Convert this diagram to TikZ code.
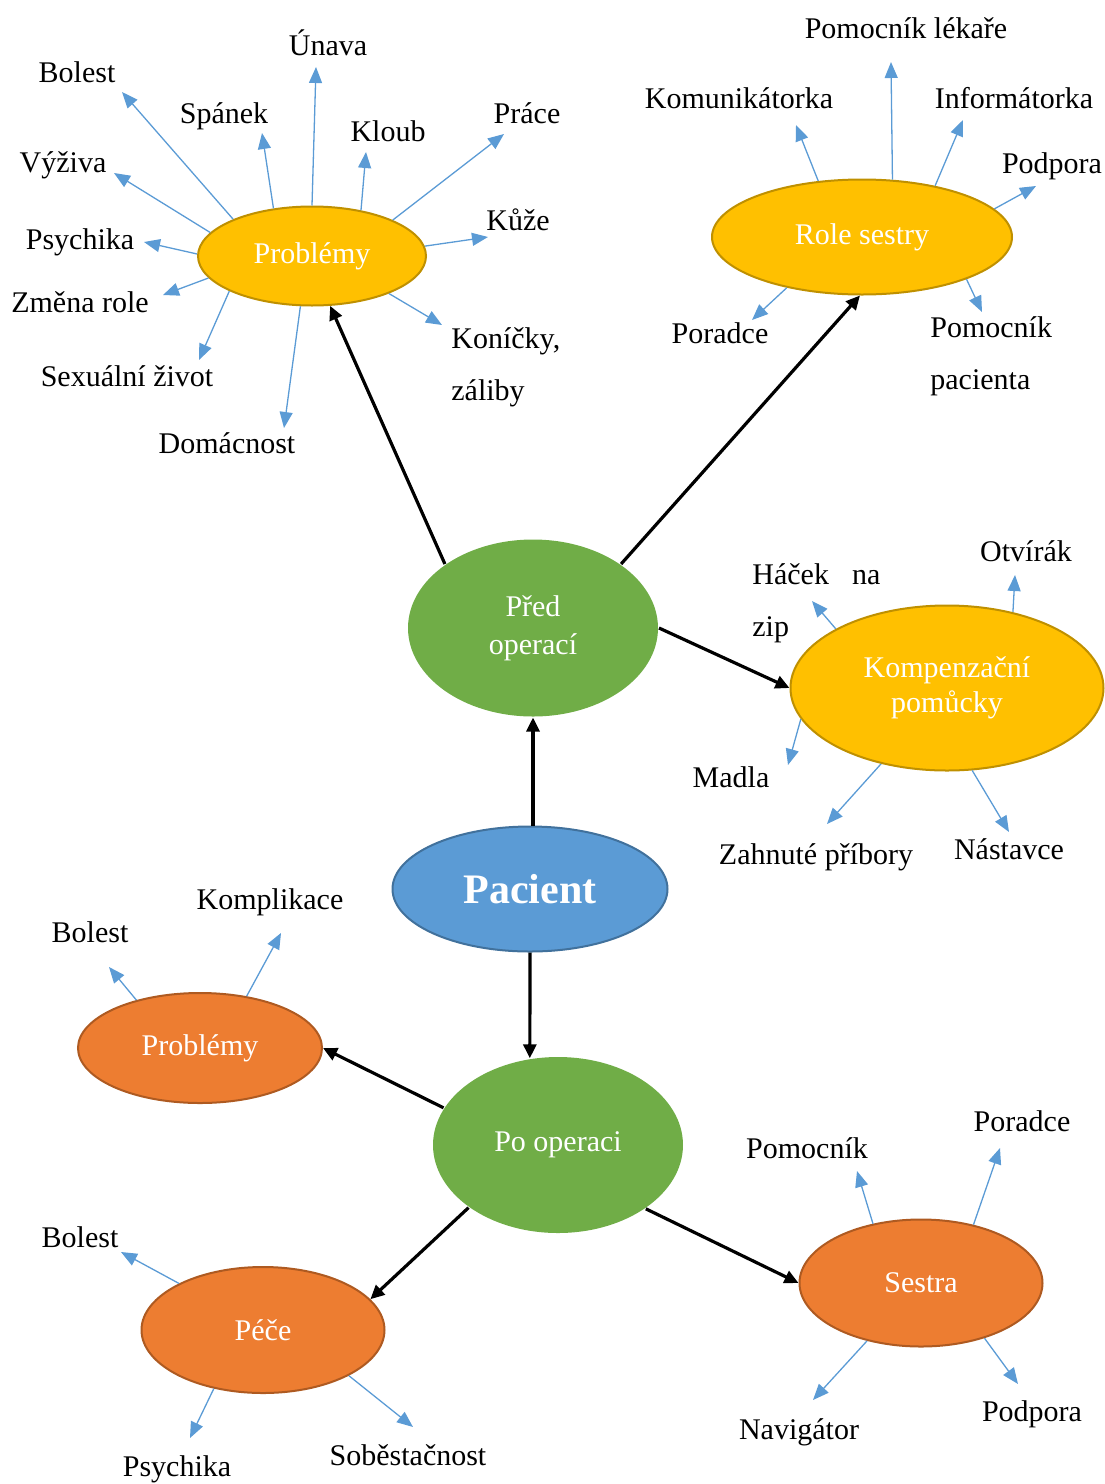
\documentclass[tikz,border=0pt]{standalone}
\usepackage{fontspec}
\setmainfont{Liberation Serif}
\usepackage{xcolor}
\usetikzlibrary{shapes.geometric,arrows.meta}
\definecolor{goldFill}{HTML}{FFC000}
\definecolor{goldEdge}{HTML}{BF9000}
\definecolor{greenFill}{HTML}{70AD47}
\definecolor{blueFill}{HTML}{5B9BD5}
\definecolor{blueEdge}{HTML}{41719C}
\definecolor{orangeFill}{HTML}{ED7D31}
\definecolor{orangeEdge}{HTML}{AE5A21}
\definecolor{leafBlue}{HTML}{5B9BD5}

\begin{document}
\begin{tikzpicture}[x=0.5pt,y=-0.5pt,
bubble/.style={ellipse,inner sep=0pt,align=center,text=white,line width=1pt,
  font=\fontsize{15}{17.5}\selectfont},
goldBubble/.style={bubble,fill=goldFill,draw=goldEdge},
greenBubble/.style={bubble,fill=greenFill},
blueBubble/.style={bubble,fill=blueFill,draw=blueEdge},
orangeBubble/.style={bubble,fill=orangeFill,draw=orangeEdge},
link/.style={line width=1.6pt,-{Triangle[length=7pt,width=6.5pt]}},
leaf/.style={draw=leafBlue,line width=0.65pt,-{Triangle[length=8pt,width=6.5pt]}},
lbl/.style={inner sep=0pt,anchor=base,font=\fontsize{15}{26}\selectfont}]

\useasboundingbox (0,0) rectangle (1104,1484);

\node[goldBubble,minimum width=114pt,minimum height=49.5pt] (probA) at (312,256) {Problémy};
\node[goldBubble,minimum width=150pt,minimum height=57.5pt] (role) at (862,237) {Role sestry};
\node[greenBubble,minimum width=125pt,minimum height=88.5pt,
  font=\fontsize{15}{19}\selectfont] (pred) at (533,628) {Před\\operací};
\node[goldBubble,minimum width=156.5pt,minimum height=82.5pt] (komp) at (947,688) {Kompenzační\\pomůcky};
\node[blueBubble,minimum width=137.5pt,minimum height=62.5pt,
  font=\fontsize{21}{24}\selectfont\bfseries] (pacient) at (530,889) {Pacient};
\node[orangeBubble,minimum width=122pt,minimum height=55pt] (probB) at (200,1048) {Problémy};
\node[greenBubble,minimum width=125pt,minimum height=88pt] (po) at (558,1145) {Po operaci};
\node[orangeBubble,minimum width=121.5pt,minimum height=63pt] (pece) at (263,1330) {Péče};
\node[orangeBubble,minimum width=121.5pt,minimum height=63.5pt] (sestra) at (921,1283) {Sestra};

\draw[link] (pred.144) -- (probA.-70);
\draw[link] (pred.36) -- (role.-92);
\draw[link] (pred.0) -- (komp.180);
\draw[link] (pred.south |- pacient.north) -- (pred.south);
\draw[link] (pacient.south) -- (po.108);
\draw[link] (po.162) -- (probB.0);
\draw[link] (po.-145) -- (pece.16);
\draw[link] (po.-36) -- (sestra.180);

\foreach \n/\a/\tx/\ty/\lx/\ly/\t [count=\i] in {
  probA/155/122/92/77/82/Bolest,
  probA/129/262/133/224/123/Spánek,
  probA/90/316/67/328/55/Únava,
  probA/43/366/152/388/141/Kloub,
  probA/24/504/134/527/123/Práce,
  probA/5/488/237/518/230/Kůže,
  probA/-103/284/428/227/453/Domácnost,
  probA/203/199/360/127/386/Sexuální život,
  probA/192/163/295/80/312/Změna role,
  probA/179/144/242/80/249/Psychika,
  probA/167/114/173/63/172/Výživa,
  role/128/796/125/739/108/Komunikátorka,
  role/62/891/62/906/38/Pomocník lékaře,
  role/35/963/120/1014/108/Informátorka,
  role/12/1036/186/1052/173/Podpora,
  role/214/752/320/720/343/Poradce,
  komp/49/1015/575/1026/561/Otvírák,
  komp/192/788/765/731/787/Madla,
  komp/229/827/824/816/864/Zahnuté příbory,
  komp/287/1009/832/1009/859/Nástavce,
  probB/143/109/967/90/942/Bolest,
  probB/48/281/933/270/909/Komplikace,
  pece/151/121/1252/80/1247/Bolest,
  pece/230/190/1438/177/1476/Psychika,
  pece/-28/413/1427/408/1465/Soběstačnost,
  sestra/129/857/1171/807/1158/Pomocník,
  sestra/48/1000/1148/1022/1131/Poradce,
  sestra/-41/1018/1384/1032/1421/Podpora,
  sestra/227/813/1400/799/1439/Navigátor}
{
  \coordinate (tip-\i) at (\tx,\ty);
  \draw[leaf] (\n.\a) -- (tip-\i);
  \node[lbl] (lbl-\i) at (\lx,\ly) {\t};
}

\coordinate (tip-konicky) at (442,325);
\draw[leaf] (probA.-26) -- (tip-konicky);
\node[lbl,anchor=base west,align=left] (lbl-konicky) at (451,400) {Koníčky,\\záliby};

\coordinate (tip-pacienta) at (982,312);
\draw[leaf] (role.-22) -- (tip-pacienta);
\node[lbl,anchor=base west,align=left] (lbl-pacienta) at (930,389) {Pomocník\\pacienta};

\coordinate (tip-zip) at (812,601);
\draw[leaf] (komp.152) -- (tip-zip);
\node[lbl,anchor=base west,align=left] (lbl-zip) at (752,636) {\hbox to 64pt{Háček\hfill na}\\zip};
\end{tikzpicture}
\end{document}
